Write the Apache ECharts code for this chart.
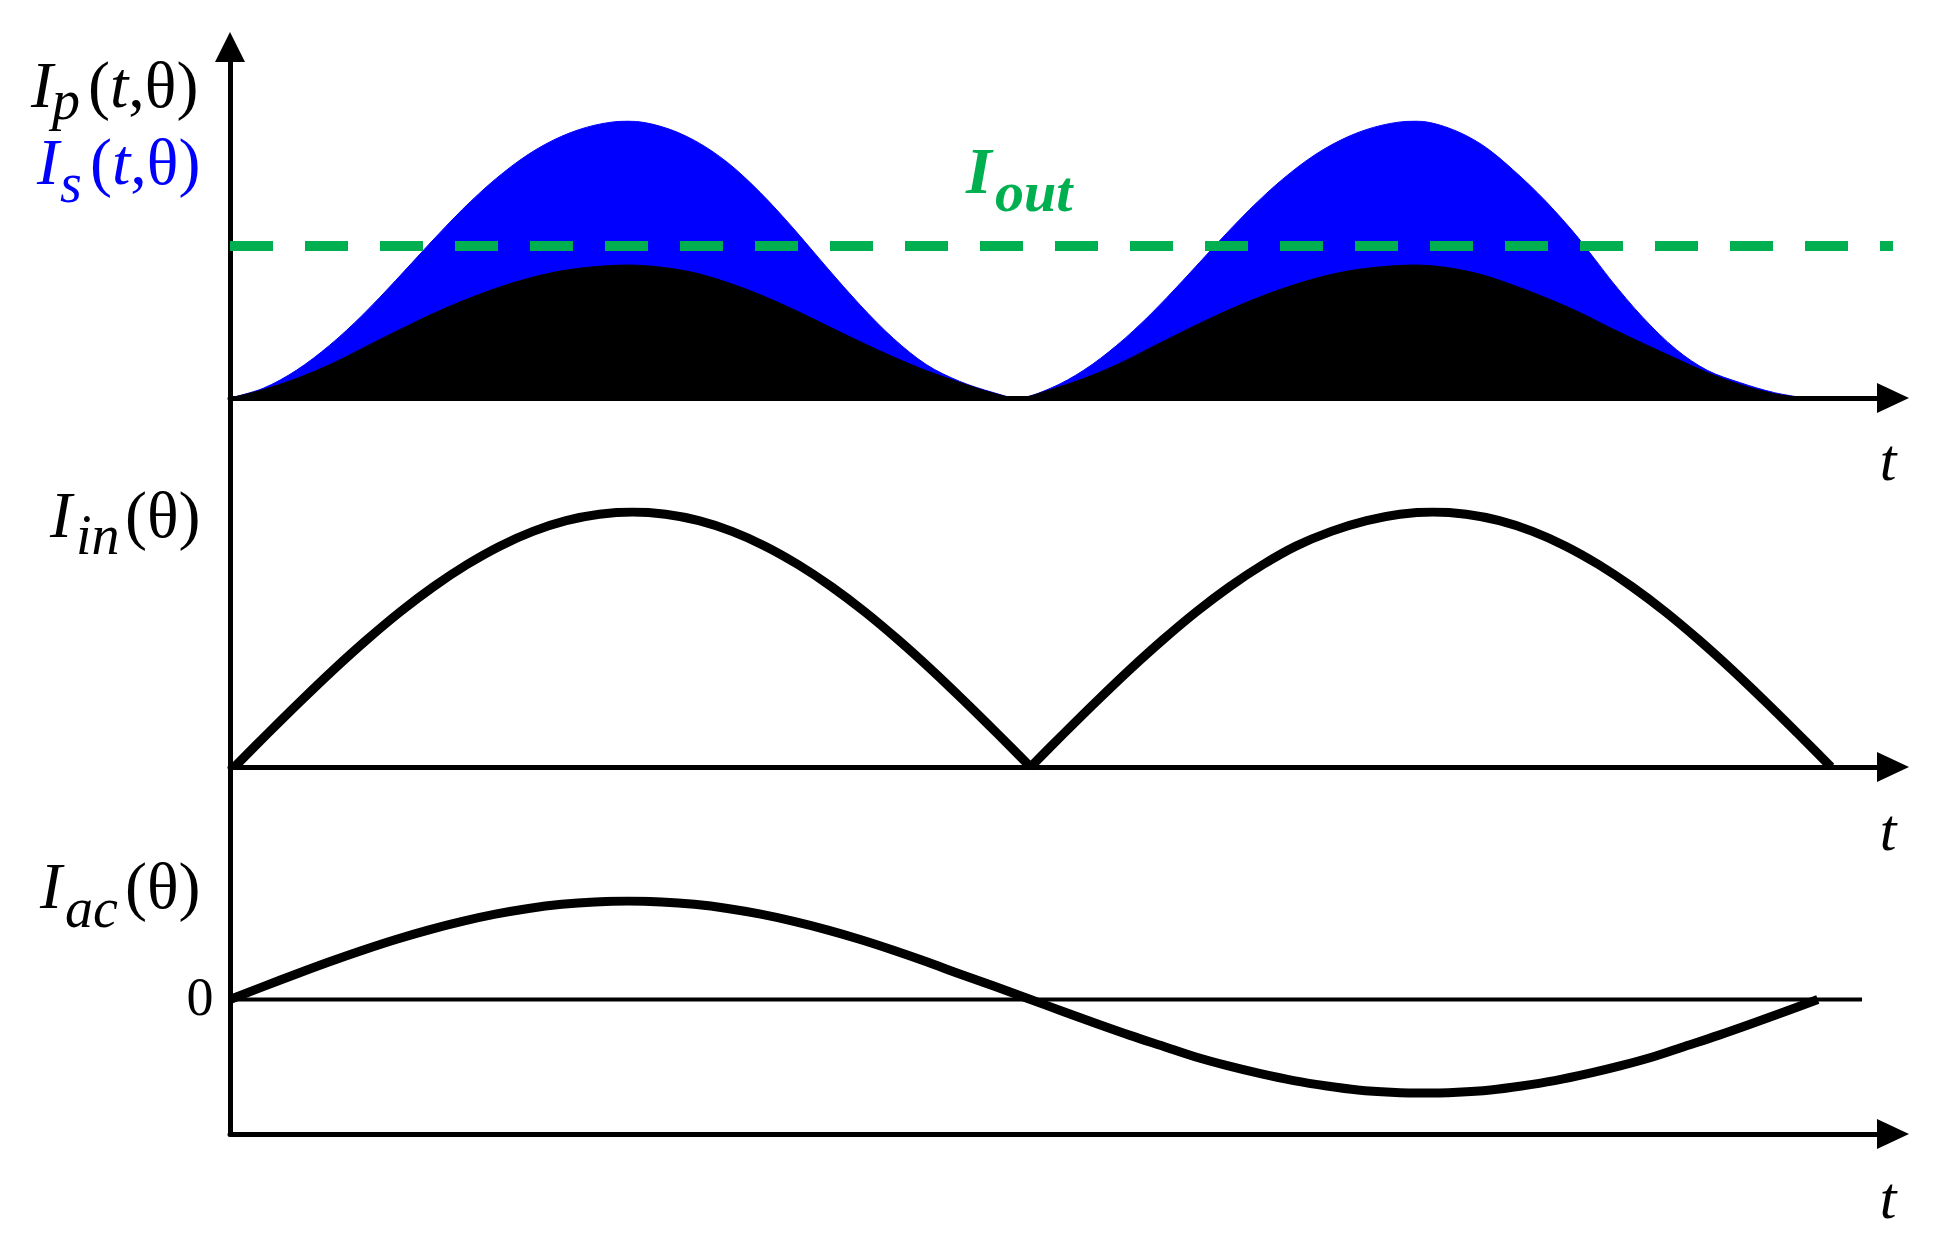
<!DOCTYPE html>
<html>
<head>
<meta charset="utf-8">
<script src="https://cdn.jsdelivr.net/npm/echarts@6/dist/echarts.min.js"></script>
<style>
html, body { margin: 0; padding: 0; background: #fff; }
#main { width: 1933px; height: 1245px; }
</style>
</head>
<body>
<div id="main"></div>
<script>
// angle axis (degrees) shared by the three panels
var thetaMax = 376;

// top panel: two pulses of I_s (blue) and I_p (black)
var hump1X = [0, 7.5, 15, 22.5, 30, 37.5, 45, 52.5, 60, 67.5, 75, 82.5, 90, 97.5, 105, 112.5, 120, 127.5, 135, 142.5, 150, 157.5, 165, 172.5, 178];
var isHump1 = [0, 0.035, 0.100, 0.190, 0.300, 0.425, 0.555, 0.680, 0.790, 0.880, 0.945, 0.985, 1.0,
    0.980, 0.930, 0.850, 0.740, 0.610, 0.470, 0.335, 0.215, 0.120, 0.060, 0.020, 0];
var ipHump1 = [0, 0.030, 0.070, 0.120, 0.180, 0.240, 0.298, 0.350, 0.395, 0.432, 0.459, 0.474, 0.480,
    0.472, 0.452, 0.417, 0.372, 0.319, 0.261, 0.203, 0.148, 0.098, 0.056, 0.018, 0];
var hump2X = [178, 185.5, 193, 200.5, 208, 215.5, 223, 230.5, 238, 245.5, 253, 260.5, 268, 275.5, 283, 290, 297.5, 305, 312, 319.5, 327, 334, 341.5, 349, 356];
var isHump2 = [0, 0.035, 0.100, 0.190, 0.300, 0.425, 0.555, 0.680, 0.790, 0.880, 0.945, 0.985, 1.0,
    0.975, 0.915, 0.825, 0.710, 0.575, 0.430, 0.290, 0.175, 0.100, 0.055, 0.020, 0];
var ipHump2 = [0, 0.030, 0.070, 0.120, 0.180, 0.240, 0.298, 0.350, 0.395, 0.432, 0.459, 0.474, 0.480,
    0.470, 0.445, 0.408, 0.362, 0.310, 0.254, 0.197, 0.142, 0.092, 0.048, 0.016, 0];
var iOut = 0.549;

// middle panel: rectified input current, one list per half cycle
var inX1 = [1, 8.5, 16, 23.5, 31, 38.5, 46, 53.5, 61, 68.5, 76, 83.5, 91, 98.5, 106, 113.5, 121, 128.5, 136, 143.5, 151, 158.5, 166, 173.5, 181];
var inX2 = [181, 188.5, 196, 203.5, 211, 218.5, 226, 233.5, 241, 249, 257, 264.5, 272, 279.5, 287, 294.5, 302, 309.5, 317, 324.5, 332, 339.5, 347, 354.5, 362];
var inY = [0, 0.131, 0.259, 0.383, 0.500, 0.609, 0.707, 0.793, 0.866, 0.924, 0.966, 0.991, 1.0,
    0.991, 0.966, 0.924, 0.866, 0.793, 0.707, 0.609, 0.500, 0.383, 0.259, 0.131, 0];

// bottom panel: ac line current
var acX = [0, 7.5, 15, 22.5, 30, 37.5, 45, 52.5, 60, 67.5, 75, 82.5, 90, 97.5, 105, 112.5, 120, 127.5, 135, 142.5, 150, 157.5, 165, 173, 181,
    188.5, 196, 203.5, 211, 218, 225.5, 233, 240.5, 248, 255, 262.5, 270, 277.5, 285, 292, 299.5, 307, 314.5, 322, 329, 336.5, 344, 351.5, 359];
var acY = [0, 0.131, 0.259, 0.383, 0.500, 0.609, 0.707, 0.793, 0.866, 0.924, 0.966, 0.991, 1.0,
    0.991, 0.966, 0.924, 0.866, 0.793, 0.707, 0.609, 0.500, 0.383, 0.259, 0.131, 0,
    -0.124, -0.246, -0.364, -0.475, -0.579, -0.672, -0.753, -0.823, -0.878, -0.918, -0.941, -0.950,
    -0.941, -0.918, -0.878, -0.823, -0.753, -0.672, -0.579, -0.475, -0.364, -0.246, -0.124, 0];
var zeroLineX = [0, 369];

var serif = 'Liberation Serif';

function pairs(xs, ys) {
    var res = [];
    for (var i = 0; i < xs.length; i++) {
        res.push([xs[i], ys[i]]);
    }
    return res;
}

var isData = pairs(hump1X, isHump1).concat(pairs(hump2X.slice(1), isHump2.slice(1)));
var ipData = pairs(hump1X, ipHump1).concat(pairs(hump2X.slice(1), ipHump2.slice(1)));

function tAxis(gridIndex) {
    return {
        type: 'value', gridIndex: gridIndex, min: 0, max: thetaMax, z: 5,
        axisLine: {
            show: true, onZero: false,
            symbol: ['none', 'triangle'], symbolSize: [30, 32],
            lineStyle: { color: '#000', width: 5 }
        },
        axisTick: { show: false }, axisLabel: { show: false }, splitLine: { show: false }
    };
}

function hiddenY(gridIndex, min, max) {
    return { type: 'value', gridIndex: gridIndex, min: min, max: max, show: false };
}

function txt(x, y, s, size, color, italic, bold, align) {
    return {
        type: 'text', x: x, y: y, silent: true,
        style: {
            text: s, fontFamily: serif, fontSize: size,
            fontStyle: italic ? 'italic' : 'normal',
            fontWeight: bold ? 'bold' : 'normal',
            fill: color, align: align || 'left', verticalAlign: 'middle'
        }
    };
}

// "(t,θ)" with italic t
function tail(x, y, color) {
    return {
        type: 'text', x: x, y: y, silent: true,
        style: {
            text: '{n|(}{i|t}{n|,θ)}',
            fill: color, align: 'left', verticalAlign: 'middle',
            rich: {
                n: { fontFamily: serif, fontSize: 66, fontStyle: 'normal', fill: color },
                i: { fontFamily: serif, fontSize: 66, fontStyle: 'italic', fill: color }
            }
        }
    };
}

var lineSeries = function (name, x, y, data) {
    return {
        name: name, type: 'line', xAxisIndex: x, yAxisIndex: y, data: data,
        smooth: 0.33, showSymbol: false, symbol: 'none', silent: true,
        lineStyle: { color: '#000', width: 9, join: 'round' }
    };
};

var myChart = echarts.init(document.getElementById('main'));

option = {
    backgroundColor: '#fff',
    animation: false,
    grid: [
        { left: 230, right: 40, top: 121, bottom: 847 },   // I_p / I_s
        { left: 230, right: 40, top: 512, bottom: 478 },   // I_in
        { left: 230, right: 40, top: 901, bottom: 111 },   // I_ac
        { left: 230, width: 10, top: 47, bottom: 111 }     // shared vertical axis
    ],
    xAxis: [
        tAxis(0), tAxis(1), tAxis(2),
        { type: 'value', gridIndex: 3, show: false, min: 0, max: 1 }
    ],
    yAxis: [
        hiddenY(0, 0, 1),
        hiddenY(1, 0, 1),
        hiddenY(2, -1.365, 1),
        {
            type: 'value', gridIndex: 3, min: 0, max: 1,
            axisLine: {
                show: true, onZero: false,
                symbol: ['none', 'triangle'], symbolSize: [30, 30],
                lineStyle: { color: '#000', width: 5 }
            },
            axisTick: { show: false }, axisLabel: { show: false }, splitLine: { show: false }
        }
    ],
    series: [
        {
            name: 'Is', type: 'line', xAxisIndex: 0, yAxisIndex: 0, data: isData,
            smooth: 0.33, symbol: 'none', silent: true,
            lineStyle: { color: '#0000ff', width: 1 },
            areaStyle: { color: '#0000ff', opacity: 1 },
            markLine: {
                silent: true, symbol: 'none', label: { show: false },
                lineStyle: { color: '#00b050', width: 10, type: [43, 32] },
                data: [{ yAxis: iOut }]
            }
        },
        {
            name: 'Ip', type: 'line', xAxisIndex: 0, yAxisIndex: 0, data: ipData,
            smooth: 0.33, symbol: 'none', silent: true,
            lineStyle: { color: '#000', width: 1 },
            areaStyle: { color: '#000', opacity: 1 }
        },
        lineSeries('Iin1', 1, 1, pairs(inX1, inY)),
        lineSeries('Iin2', 1, 1, pairs(inX2, inY)),
        {
            name: 'zero', type: 'line', xAxisIndex: 2, yAxisIndex: 2,
            data: pairs(zeroLineX, [0, 0]), symbol: 'none', silent: true,
            lineStyle: { color: '#000', width: 4 }
        },
        lineSeries('Iac', 2, 2, pairs(acX, acY))
    ],
    graphic: [
        // I_p(t,θ)
        txt(31, 90, 'I', 66, '#000', true),
        txt(52, 104, 'p', 56, '#000', true),
        tail(88, 90, '#000'),
        // I_s(t,θ)
        txt(37, 167, 'I', 66, '#0000ff', true),
        txt(60, 187, 's', 56, '#0000ff', true),
        tail(90, 167, '#0000ff'),
        // I_in(θ)
        txt(50, 520, 'I', 66, '#000', true),
        txt(76, 539, 'in', 56, '#000', true),
        txt(125, 520, '(θ)', 66, '#000'),
        // I_ac(θ)
        txt(40, 891, 'I', 66, '#000', true),
        txt(65, 912, 'ac', 56, '#000', true),
        txt(125, 891, '(θ)', 66, '#000'),
        // I_out
        txt(966, 176, 'I', 66, '#00b050', true, true),
        txt(995, 196, 'out', 58, '#00b050', true, true),
        // zero and time labels
        txt(200, 1001, '0', 54, '#000', false, false, 'center'),
        txt(1888, 464, 't', 60, '#000', true, false, 'center'),
        txt(1888, 834, 't', 60, '#000', true, false, 'center'),
        txt(1888, 1202, 't', 60, '#000', true, false, 'center')
    ]
};

myChart.setOption(option);
</script>
</body>
</html>
